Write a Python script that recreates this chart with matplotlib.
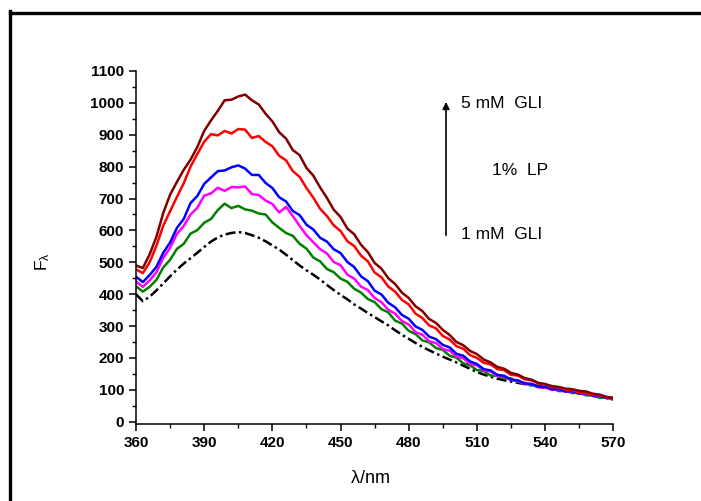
import matplotlib
matplotlib.use("Agg")
import matplotlib.pyplot as plt
from matplotlib.lines import Line2D
from matplotlib.ticker import MultipleLocator

plt.rcParams['font.family'] = ['Liberation Sans', 'DejaVu Sans']

# Emission wavelength (nm)
wavelength = list(range(360, 571, 3))

# Fluorescence intensity, 1 % LP with increasing GLI
gli_5mM = [490, 482, 525, 580, 655, 712, 752, 790, 822, 862, 912, 945, 975, 1008, 1010,
           1020, 1026, 1008, 995, 966, 942, 908, 888, 852, 836, 796, 772, 735, 702, 665,
           642, 606, 588, 555, 532, 498, 480, 450, 432, 405, 388, 362, 347, 322, 310,
           288, 272, 250, 240, 222, 212, 195, 186, 172, 166, 153, 148, 137, 132, 122,
           118, 112, 109, 104, 102, 97, 95, 88, 85, 78, 75]
gli_4mM = [478, 466, 500, 552, 615, 660, 705, 748, 800, 840, 878, 902, 898, 912, 904,
           918, 916, 890, 896, 878, 864, 834, 820, 786, 768, 733, 703, 668, 645, 616,
           598, 566, 551, 521, 503, 468, 453, 424, 408, 382, 368, 339, 325, 302, 293,
           269, 258, 237, 229, 209, 200, 185, 180, 165, 162, 147, 145, 133, 130, 120,
           118, 108, 108, 100, 99, 92, 90, 84, 83, 77, 74]
gli_3mM = [455, 438, 460, 486, 530, 562, 608, 636, 686, 708, 746, 766, 786, 788, 798,
           804, 794, 774, 774, 749, 733, 704, 691, 661, 648, 618, 603, 577, 565, 541,
           529, 501, 485, 456, 441, 411, 399, 373, 359, 335, 323, 299, 288, 267, 259,
           241, 233, 213, 207, 189, 181, 165, 161, 147, 144, 132, 130, 120, 119, 110,
           110, 102, 102, 95, 96, 89, 90, 82, 82, 76, 74]
gli_2mM = [440, 423, 443, 469, 514, 545, 589, 614, 650, 671, 709, 716, 734, 724, 736,
           735, 738, 714, 711, 694, 683, 656, 674, 645, 614, 585, 563, 541, 528, 501,
           491, 461, 449, 424, 413, 388, 375, 351, 339, 316, 305, 281, 273, 252, 247,
           228, 223, 204, 199, 181, 177, 161, 158, 143, 142, 130, 128, 118, 117, 108,
           108, 100, 101, 94, 95, 88, 89, 81, 82, 75, 73]
gli_1mM = [425, 408, 423, 445, 484, 508, 542, 558, 590, 601, 624, 636, 664, 684, 670,
           677, 666, 662, 653, 650, 625, 608, 592, 583, 558, 543, 515, 503, 479, 469,
           449, 439, 417, 405, 385, 375, 353, 343, 317, 308, 285, 275, 255, 249, 231,
           225, 207, 201, 183, 177, 162, 159, 145, 144, 136, 136, 125, 122, 114, 114,
           106, 106, 96, 97, 90, 91, 83, 83, 75, 75, 70]
lp_only = [400, 378, 392, 412, 434, 456, 477, 496, 513, 530, 548, 565, 578, 587, 592,
           595, 592, 585, 577, 566, 553, 540, 524, 507, 490, 475, 461, 446, 429, 413,
           398, 384, 368, 355, 341, 328, 315, 302, 287, 273, 260, 247, 235, 224, 214,
           204, 195, 186, 176, 166, 156, 148, 141, 135, 130, 126, 122, 118, 114, 110,
           106, 102, 99, 96, 93, 89, 85, 81, 77, 74, 70]

x_ticks = [360, 390, 420, 450, 480, 510, 540, 570]
y_ticks = list(range(0, 1101, 100))

fig = plt.figure(figsize=(7.01, 5.01), dpi=100)
ax = fig.add_axes([0.1940, 0.1531, 0.6809, 0.7052])

lw = 1.8
ax.plot(wavelength, lp_only, color='black', lw=lw, dashes=(4.0, 1.4, 1.0, 1.4))
ax.plot(wavelength, gli_1mM, color='#008000', lw=lw)
ax.plot(wavelength, gli_2mM, color='#FF00FF', lw=lw)
ax.plot(wavelength, gli_3mM, color='#0000FF', lw=lw)
ax.plot(wavelength, gli_4mM, color='#FF0000', lw=lw)
ax.plot(wavelength, gli_5mM, color='#800000', lw=lw)

ax.set_xlim(360, 570)
ax.set_ylim(-8, 1100)
ax.set_xticks(x_ticks)
ax.set_yticks(y_ticks)
ax.xaxis.set_minor_locator(MultipleLocator(15))
ax.yaxis.set_minor_locator(MultipleLocator(50))

for side in ('top', 'right'):
    ax.spines[side].set_visible(False)
for side in ('left', 'bottom'):
    ax.spines[side].set_linewidth(1.1)

ax.tick_params(which='major', direction='out', length=5, width=1.1, pad=3.5,
               labelsize=11)
ax.tick_params(which='minor', direction='out', length=3, width=1.0)
for lab in ax.get_xticklabels() + ax.get_yticklabels():
    lab.set_fontweight('bold')

ax.set_xlabel(r'$\mathregular{\lambda}$/nm', fontsize=13)
ax.xaxis.set_label_coords(0.49, -0.13)
ax.set_ylabel(r'$\mathregular{F_{\lambda}}$', fontsize=12.5)
ax.yaxis.set_label_coords(-0.176, 0.46)

# Concentration arrow and annotations
ax.annotate('', xy=(496.4, 1003), xytext=(496.4, 585),
            arrowprops=dict(arrowstyle='-|>', color='black', lw=1.2,
                            mutation_scale=10, shrinkA=0, shrinkB=0))
ax.text(503, 997, '5 mM  GLI', fontsize=12.5, va='center', ha='left')
ax.text(516.6, 787, '1%  LP', fontsize=12.5, va='center', ha='left')
ax.text(503, 586, '1 mM  GLI', fontsize=12.5, va='center', ha='left')

# Outer frame along the top and left of the figure
fig.add_artist(Line2D([9.5 / 701, 1.0], [1 - 12.5 / 501, 1 - 12.5 / 501],
                      transform=fig.transFigure, color='black', lw=2.4))
fig.add_artist(Line2D([9.5 / 701, 9.5 / 701], [0.0, 1 - 11.3 / 501],
                      transform=fig.transFigure, color='black', lw=2.4,
                      solid_capstyle='projecting'))

fig.savefig('out.png', dpi=100)
